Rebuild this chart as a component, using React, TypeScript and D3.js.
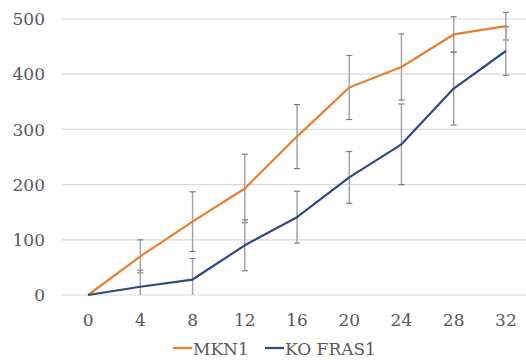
import { useRef, useEffect } from "react";
import * as d3 from "d3";

// hours
const timePoints = [0, 4, 8, 12, 16, 20, 24, 28, 32];
const mkn1Values = [0, 70, 133, 193, 287, 376, 413, 472, 487];
const mkn1Errors = [0, 30, 54, 62, 58, 58, 60, 32, 25];
const koValues = [0, 15, 28, 90, 141, 213, 273, 374, 442];
const koErrors = [0, 30, 38, 46, 47, 47, 73, 66, 44];
const yTicks = [0, 100, 200, 300, 400, 500];
const seriesNames = ["MKN1", "KO FRAS1"];

const width = 526;
const height = 360;
const font = "DejaVu Serif, serif";
const fontSize = 17;
const textColor = "#595959";

const series = [
  { name: seriesNames[0], values: mkn1Values, errors: mkn1Errors, color: "#ED7D31" },
  { name: seriesNames[1], values: koValues, errors: koErrors, color: "#2E4A86" },
];

const App = () => {
  const svgRef = useRef<SVGSVGElement>(null);

  useEffect(() => {
    const svg = d3.select(svgRef.current);
    svg.selectAll("*").remove();

    const x = d3
      .scalePoint<number>()
      .domain(timePoints)
      .range([62, 532])
      .padding(0.5);
    const y = d3.scaleLinear().domain([0, 500]).range([295, 19]);

    // gridlines
    svg
      .append("g")
      .selectAll("line")
      .data(yTicks)
      .enter()
      .append("line")
      .attr("x1", 62)
      .attr("x2", 532)
      .attr("y1", (d) => y(d))
      .attr("y2", (d) => y(d))
      .attr("stroke", "#D9D9D9")
      .attr("stroke-width", 1.2);

    // y labels
    svg
      .append("g")
      .selectAll("text")
      .data(yTicks)
      .enter()
      .append("text")
      .attr("x", 45)
      .attr("y", (d) => y(d))
      .attr("dy", "0.36em")
      .attr("text-anchor", "end")
      .attr("font-family", font)
      .attr("font-size", fontSize)
      .attr("fill", textColor)
      .text((d) => d);

    // x labels
    svg
      .append("g")
      .selectAll("text")
      .data(timePoints)
      .enter()
      .append("text")
      .attr("x", (d) => x(d)!)
      .attr("y", 326)
      .attr("text-anchor", "middle")
      .attr("font-family", font)
      .attr("font-size", fontSize)
      .attr("fill", textColor)
      .text((d) => d);

    // error bars
    series.forEach((s) => {
      const g = svg.append("g");
      timePoints.forEach((t, i) => {
        const e = s.errors[i];
        if (!e) return;
        const cx = x(t)!;
        const lo = Math.max(0, s.values[i] - e);
        const hi = s.values[i] + e;
        g.append("line")
          .attr("x1", cx)
          .attr("x2", cx)
          .attr("y1", y(lo))
          .attr("y2", y(hi))
          .attr("stroke", "#A5A5A5")
          .attr("stroke-width", 1.5);
        [hi, s.values[i] - e].forEach((v) => {
          if (v < 0) return;
          g.append("line")
            .attr("x1", cx - 3)
            .attr("x2", cx + 3)
            .attr("y1", y(v))
            .attr("y2", y(v))
            .attr("stroke", "#7F7F7F")
            .attr("stroke-width", 1.2);
        });
      });
    });

    // lines
    const line = d3
      .line<number>()
      .x((_, i) => x(timePoints[i])!)
      .y((d) => y(d));

    series.forEach((s) => {
      svg
        .append("path")
        .datum(s.values)
        .attr("d", line)
        .attr("fill", "none")
        .attr("stroke", s.color)
        .attr("stroke-width", 2.2)
        .attr("stroke-linejoin", "round");
    });

    // legend
    const legendX = [173, 265];
    const legend = svg
      .selectAll(".legend")
      .data(series)
      .enter()
      .append("g")
      .attr("class", "legend")
      .attr("transform", (d, i) => `translate(${legendX[i]},348)`);

    legend
      .append("line")
      .attr("x1", 0)
      .attr("x2", 19)
      .attr("stroke", (d) => d.color)
      .attr("stroke-width", 2.2);

    legend
      .append("text")
      .attr("x", 20)
      .attr("y", 6.5)
      .attr("font-family", font)
      .attr("font-size", fontSize)
      .attr("fill", textColor)
      .text((d) => d.name);
  }, []);

  return (
    <svg
      ref={svgRef}
      width={width}
      height={height}
      style={{ position: "absolute", left: 0, top: 0, background: "#fff" }}
    ></svg>
  );
};

export default App;
